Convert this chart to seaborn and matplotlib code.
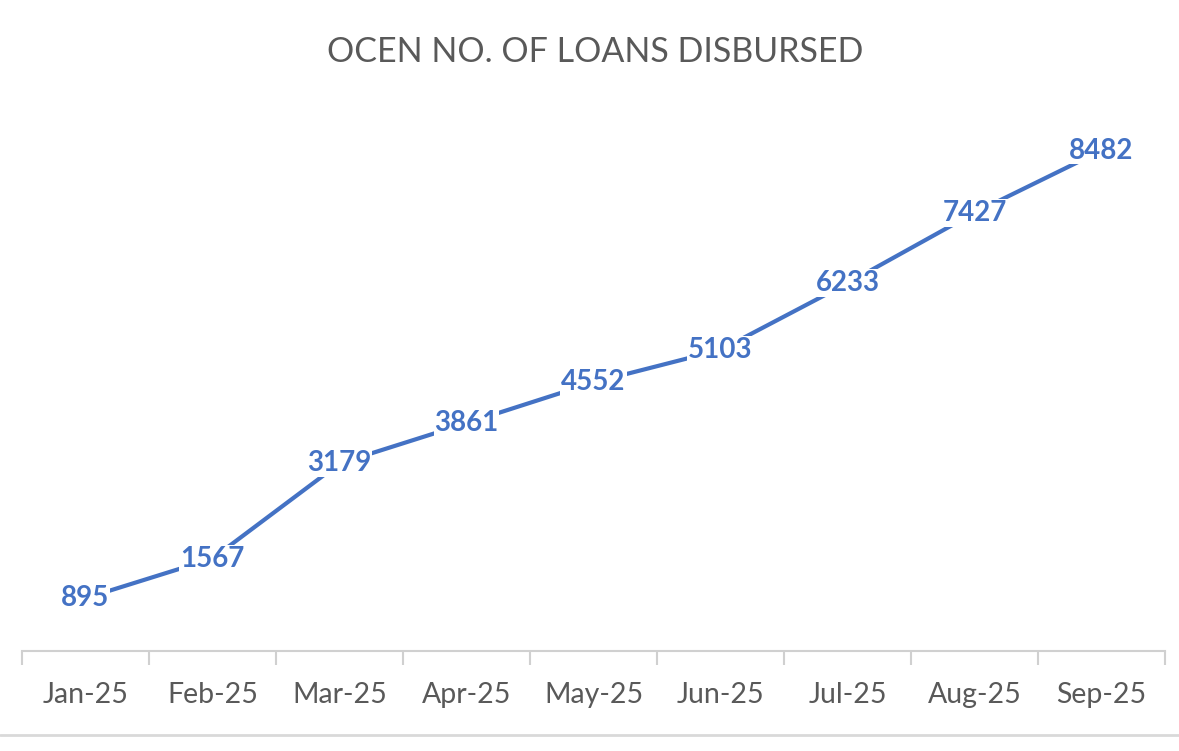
import matplotlib
matplotlib.use("Agg")
import matplotlib.pyplot as plt
import seaborn as sns
from matplotlib.ticker import FixedLocator

months = ["Jan-25", "Feb-25", "Mar-25", "Apr-25", "May-25", "Jun-25", "Jul-25", "Aug-25", "Sep-25"]
loans = [895, 1567, 3179, 3861, 4552, 5103, 6233, 7427, 8482]

sns.set_style("white")
plt.rcParams["font.family"] = ["Lato", "DejaVu Sans"]

blue = "#4472C4"
grey = "#595959"

fig = plt.figure(figsize=(11.79, 7.51), dpi=100)
ax = fig.add_axes([22 / 1179, 100 / 751, 1143 / 1179, 531 / 751])

sns.lineplot(x=months, y=loans, ax=ax, color=blue, linewidth=3, sort=False)

for i, v in enumerate(loans):
    ax.text(i, v, str(v), ha="center", va="center", fontsize=20, fontweight="bold",
            color=blue, bbox=dict(facecolor="white", edgecolor="none", pad=0.5))

ax.set_xlim(-0.5, len(months) - 0.5)
ax.set_ylim(0, 9000)
ax.set_yticks([])
ax.set_xticks(range(len(months)))
ax.set_xticklabels(months, fontsize=20.5, color=grey)
ax.xaxis.set_minor_locator(FixedLocator([i - 0.5 for i in range(len(months) + 1)]))
ax.tick_params(axis="x", which="major", length=0, pad=22)
ax.tick_params(axis="x", which="minor", bottom=True, length=10, width=1.5,
               color="#d0d0d0", direction="out")

for side in ["top", "right", "left"]:
    ax.spines[side].set_visible(False)
ax.spines["bottom"].set_color("#d0d0d0")
ax.spines["bottom"].set_linewidth(1.5)
ax.set_xlabel("")
ax.set_ylabel("")

fig.text(0.505, 1 - 52 / 751, "OCEN NO. OF LOANS DISBURSED", ha="center", va="center",
         fontsize=24.5, color=grey)

fig.add_artist(plt.Line2D([0, 1], [1 - 735 / 751] * 2, color="#d9d9d9", linewidth=2))

fig.savefig("out.png", dpi=100)
